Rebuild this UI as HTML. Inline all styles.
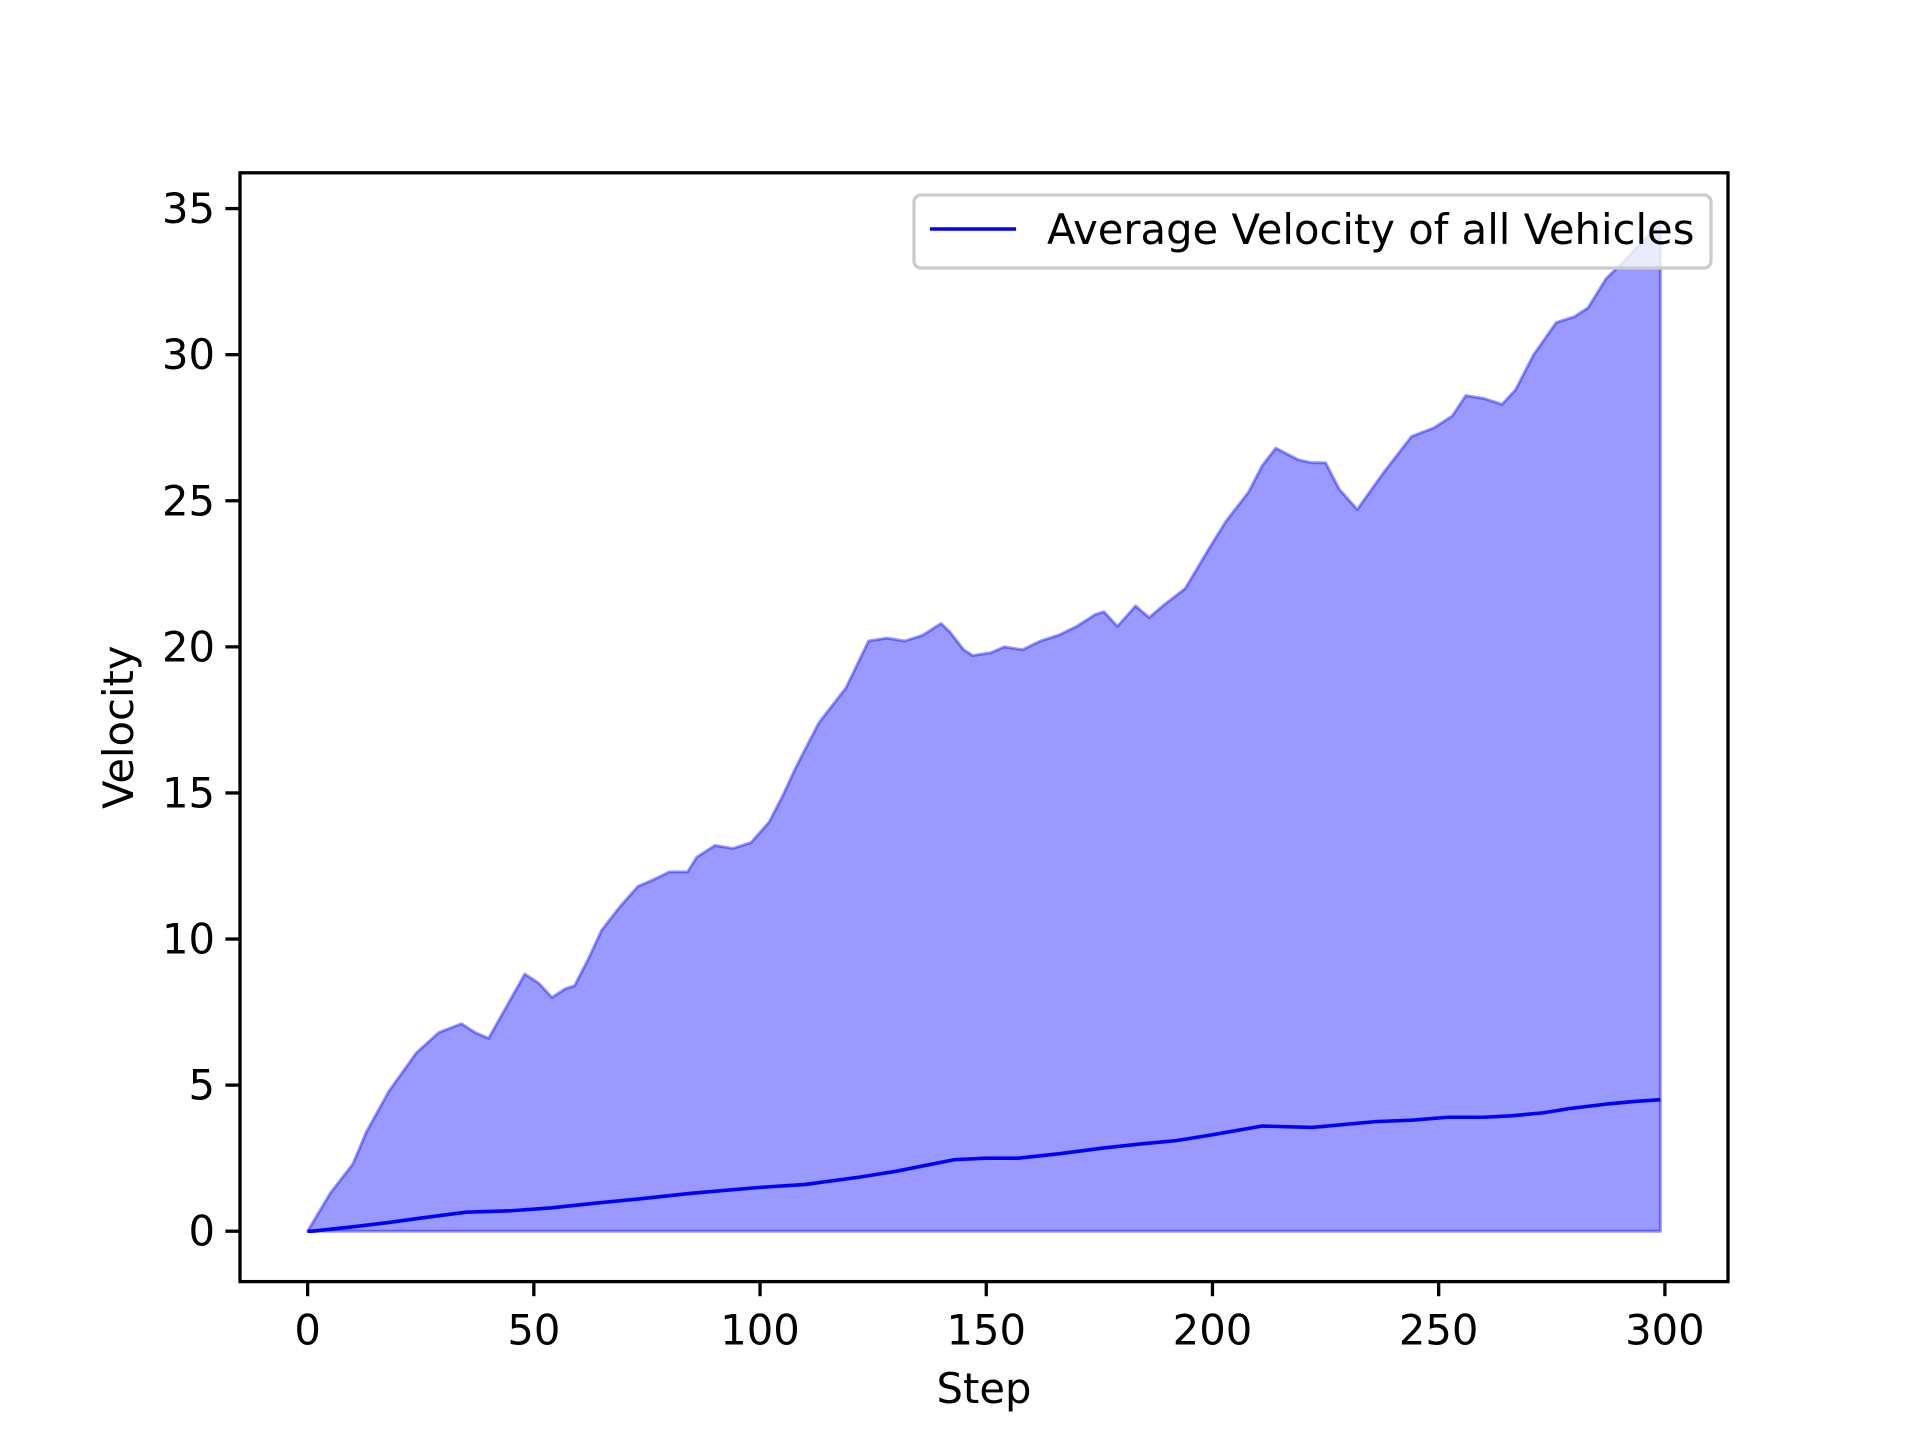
<!DOCTYPE html>
<html><head><meta charset="utf-8"><style>
html,body{margin:0;padding:0;background:#fff;}
svg{display:block;font-family:"DejaVu Sans","Liberation Sans",sans-serif;}
</style></head><body>
<svg id="chart" width="1920" height="1440" viewBox="0 0 1920 1440" xmlns="http://www.w3.org/2000/svg">
<rect width="1920" height="1440" fill="#fff"/>
<g id="plot"></g>
</svg>
<script>
const upperSteps = [0,5,10,13,18,24,29,34,37,40,44,48,51,54,57,59,62,65,69,73,76,80,84,86,90,94,98,102,105,108,113,119,124,128,132,136,140,142,145,147,151,154,158,162,166,170,174,176,179,183,186,189,194,199,203,208,211,214,219,222,225,228,232,238,244,249,253,256,260,264,267,271,276,280,283,287,291,294,299];
const upperValues = [0,1.3,2.3,3.4,4.8,6.1,6.8,7.1,6.8,6.6,7.7,8.8,8.5,8.0,8.3,8.4,9.3,10.3,11.1,11.8,12.0,12.3,12.3,12.8,13.2,13.1,13.3,14.0,14.9,15.9,17.4,18.6,20.2,20.3,20.2,20.4,20.8,20.5,19.9,19.7,19.8,20.0,19.9,20.2,20.4,20.7,21.1,21.2,20.7,21.4,21.0,21.4,22.0,23.3,24.3,25.3,26.2,26.8,26.4,26.3,26.3,25.4,24.7,26.0,27.2,27.5,27.9,28.6,28.5,28.3,28.8,30.0,31.1,31.3,31.6,32.6,33.2,33.7,34.5];
const avgSteps = [0,1,10,18,25,35,45,54,63,73,85,100,110,122,130,143,150,157,166,176,185,192,200,211,222,236,244,252,260,266,273,279,287,294,299];
const avgValues = [0,0,0.15,0.3,0.45,0.65,0.7,0.8,0.95,1.1,1.3,1.5,1.6,1.85,2.05,2.45,2.5,2.5,2.65,2.85,3.0,3.1,3.3,3.6,3.55,3.75,3.8,3.9,3.9,3.95,4.05,4.2,4.35,4.45,4.5];
const xTicks = [0,50,100,150,200,250,300];
const yTicks = [0,5,10,15,20,25,30,35];

const L=240,R=1728,T=172.8,B=1281.6;
const xmin=-14.95,xmax=313.95,ymin=-1.725,ymax=36.225;
const X=v=>L+(v-xmin)/(xmax-xmin)*(R-L);
const Y=v=>B-(v-ymin)/(ymax-ymin)*(B-T);
const NS='http://www.w3.org/2000/svg';
const g=document.getElementById('plot');
function mk(tag,attrs,parent){const e=document.createElementNS(NS,tag);for(const k in attrs)e.setAttribute(k,attrs[k]);(parent||g).appendChild(e);return e;}

let d='M'+X(upperSteps[0])+','+Y(0);
upperSteps.forEach((s,i)=>{d+=' L'+X(s)+','+Y(upperValues[i]);});
d+=' L'+X(upperSteps[upperSteps.length-1])+','+Y(0)+' Z';
const fill=mk('path',{d:d,fill:'#0000ff','fill-opacity':'0.4',stroke:'#0000ff','stroke-opacity':'0.4','stroke-width':'3','stroke-linejoin':'round'});



const pts=avgSteps.map((s,i)=>X(s)+','+Y(avgValues[i])).join(' ');
const line=mk('polyline',{points:pts,fill:'none',stroke:'#0000ff','stroke-width':'3.6','stroke-linejoin':'round'});



const sp=mk('rect',{x:L,y:T,width:R-L,height:B-T,fill:'none',stroke:'#000','stroke-width':'3.3'});



xTicks.forEach(t=>{
  const tk=mk('line',{x1:X(t),x2:X(t),y1:B,y2:B+14.6,stroke:'#000','stroke-width':'3.3'});
  
  
  const tx=mk('text',{x:X(t),y:B+63,'text-anchor':'middle','font-size':'41.7',fill:'#000'});
  tx.textContent=t;
  
  
});
yTicks.forEach(t=>{
  const tk=mk('line',{x1:L-14.6,x2:L,y1:Y(t),y2:Y(t),stroke:'#000','stroke-width':'3.3'});
  
  
  const tx=mk('text',{x:L-25,y:Y(t)+14.5,'text-anchor':'end','font-size':'41.7',fill:'#000'});
  tx.textContent=t;
  
  
});
const xl=mk('text',{x:(L+R)/2,y:1403,'text-anchor':'middle','font-size':'41.7',fill:'#000'});
xl.textContent='Step';


const yl=mk('text',{x:0,y:0,'text-anchor':'middle','font-size':'41.7',fill:'#000',transform:'translate(133,'+((T+B)/2)+') rotate(-90)'});
yl.textContent='Velocity';



const lg=mk('g',{});


const lb=mk('rect',{x:914,y:195,width:797,height:73,rx:7,fill:'#fff','fill-opacity':'0.8',stroke:'#cccccc','stroke-width':'3.3'},lg);


const ll=mk('line',{x1:930,x2:1016,y1:229,y2:229,stroke:'#0000ff','stroke-width':'3.6'},lg);


const lt=mk('text',{x:1047,y:244,'font-size':'41.7',fill:'#000'},lg);
lt.textContent='Average Velocity of all Vehicles';


</script>
</body></html>
